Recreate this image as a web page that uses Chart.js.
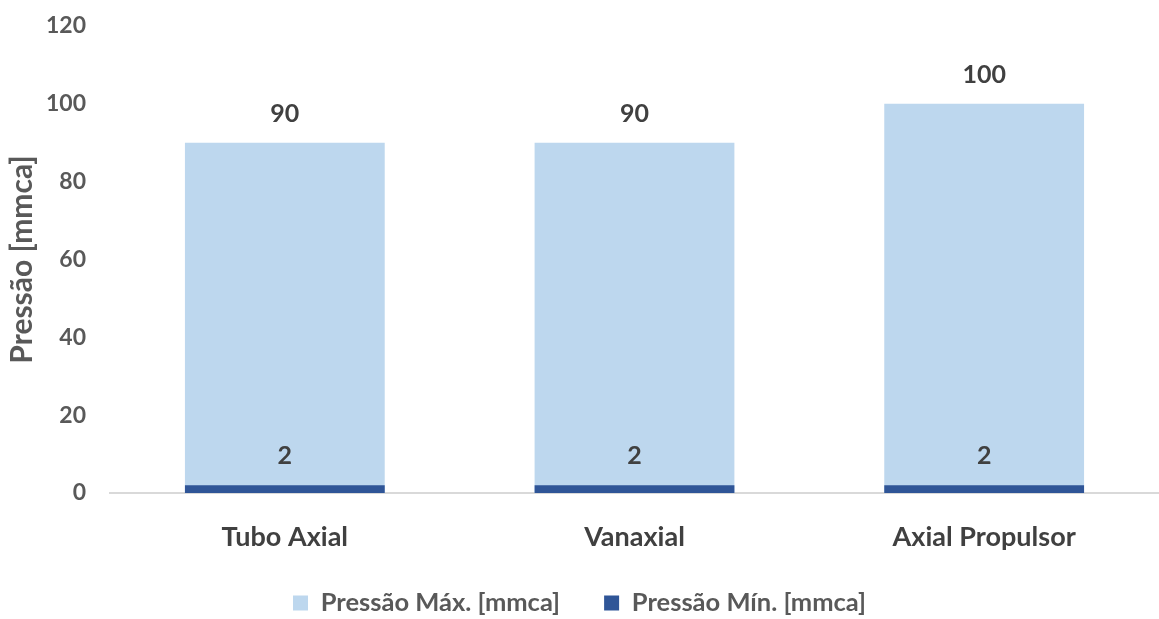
<!DOCTYPE html>
<html>
<head>
<meta charset="utf-8">
<script src="https://cdn.jsdelivr.net/npm/chart.js@4.4.0/dist/chart.umd.min.js"></script>
<style>
  html, body { margin: 0; padding: 0; background: #ffffff; }
  #wrap { width: 1159px; height: 619px; position: relative; }
</style>
</head>
<body>
<div id="wrap"><canvas id="chart" width="1159" height="619"></canvas></div>
<script>
// Fan types and their operating pressure range
const categories = ['Tubo Axial', 'Vanaxial', 'Axial Propulsor'];
const pressureMax = [90, 90, 100];
const pressureMin = [2, 2, 2];
const seriesNames = ['Pressão Máx. [mmca]', 'Pressão Mín. [mmca]'];
const yTicks = [0, 20, 40, 60, 80, 100, 120];
const yTitle = 'Pressão [mmca]';

const FONT = 'Lato, "Open Sans", sans-serif';
const LIGHT = '#BDD7EE';
const DARK = '#2F5597';
const LEGEND_CENTER_Y = 603;

// Writes each bar's value above its top edge
const valueLabels = {
  id: 'valueLabels',
  afterDatasetsDraw(chart) {
    const ctx = chart.ctx;
    ctx.save();
    ctx.font = 'bold 25px ' + FONT;
    ctx.fillStyle = '#404040';
    ctx.textAlign = 'center';
    ctx.textBaseline = 'alphabetic';
    chart.data.datasets.forEach((ds, di) => {
      const meta = chart.getDatasetMeta(di);
      meta.data.forEach((bar, i) => {
        ctx.fillText(String(ds.data[i]), bar.x, bar.y - 21);
      });
    });
    ctx.restore();
  }
};

// Places the legend row below the axis labels, keeping its whole box on the canvas
const legendRow = {
  id: 'legendRow',
  afterLayout(chart) {
    const lg = chart.legend;
    if (!lg) return;
    const lab = lg.options.labels;
    const itemH = Math.max(lab.boxHeight || 0, lab.font.size);
    lg.top = LEGEND_CENTER_Y - lab.padding - itemH / 2;
    lg.bottom = chart.height;
    lg.height = lg.bottom - lg.top;
  }
};

new Chart(document.getElementById('chart'), {
  type: 'bar',
  data: {
    labels: categories,
    datasets: [
      { label: seriesNames[0], data: pressureMax, backgroundColor: LIGHT, order: 1 },
      { label: seriesNames[1], data: pressureMin, backgroundColor: DARK, order: 0 }
    ]
  },
  options: {
    responsive: false,
    animation: false,
    events: [],
    datasets: { bar: { categoryPercentage: 1, barPercentage: 0.5714 } },
    layout: { padding: { top: 26, right: 0, left: 0, bottom: 0 } },
    plugins: {
      tooltip: { enabled: false },
      legend: {
        position: 'bottom',
        maxHeight: 36,
        labels: {
          color: '#595959',
          font: { family: FONT, size: 25.5, weight: 'bold' },
          boxWidth: 15,
          boxHeight: 15,
          padding: 44,
          sort: (a, b) => a.datasetIndex - b.datasetIndex
        }
      }
    },
    scales: {
      x: {
        stacked: true,
        grid: { display: false, drawTicks: false },
        border: { display: true, color: '#D9D9D9', width: 2 },
        ticks: {
          color: '#404040',
          font: { family: FONT, size: 27, weight: 'bold' },
          padding: 28
        },
        afterFit(scale) {
          const lg = scale.chart.legend;
          const lh = lg && lg.height ? lg.height : 0;
          scale.height = 619 - 493 - lh;
        }
      },
      y: {
        stacked: false,
        min: 0,
        max: 120,
        afterBuildTicks(scale) {
          scale.ticks = yTicks.map(v => ({ value: v }));
        },
        grid: { display: false, drawTicks: false },
        border: { display: false },
        ticks: {
          color: '#595959',
          font: { family: FONT, size: 23, weight: 'bold' },
          padding: 24
        },
        title: {
          display: true,
          text: yTitle,
          color: '#595959',
          font: { family: FONT, size: 30, weight: 'bold' },
          padding: { top: 4, bottom: 0 }
        },
        afterFit(scale) {
          scale.width = 110;
          scale.paddingTop = 0;
          scale.paddingBottom = 0;
        }
      }
    }
  },
  plugins: [valueLabels, legendRow]
});
</script>
</body>
</html>
